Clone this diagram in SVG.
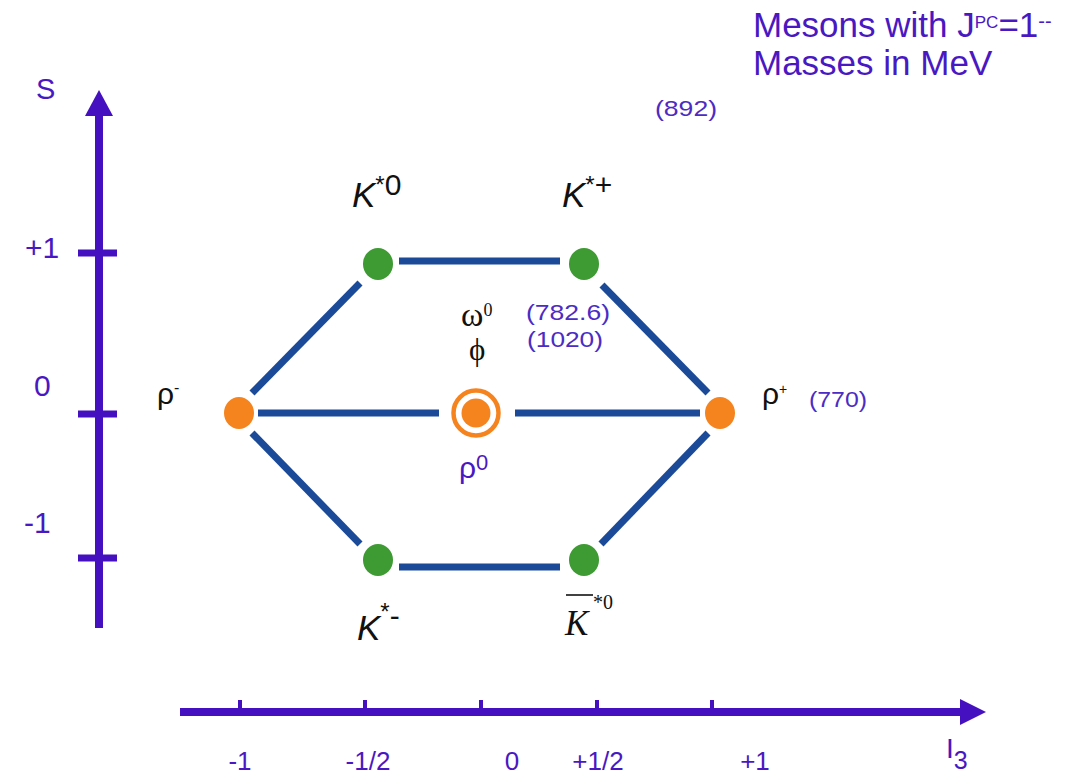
<svg xmlns="http://www.w3.org/2000/svg" width="1084" height="775" viewBox="0 0 1084 775">
<style>
.ax{stroke:#4510c0;fill:none}
.axf{fill:#4510c0}
.lbl{font-family:"Liberation Sans",Arial,sans-serif;fill:#4a18c2}
.mass{font-family:"Liberation Sans",Arial,sans-serif;fill:#4b2cc4;font-size:22px}
.blk{font-family:"Liberation Sans",Arial,sans-serif;fill:#111}
.ser{font-family:"Liberation Serif","Times New Roman",serif;fill:#111}
.edge{stroke:#1b4a98;stroke-width:7;fill:none}
.g{fill:#3e9a33}
.o{fill:#f5841f}
</style>
<rect width="1084" height="775" fill="#fff"/>

<g id="axes">
  <line class="ax" x1="99" y1="110" x2="99" y2="628" stroke-width="8"/>
  <polygon class="axf" points="99,90 85,116 113,116"/>
  <line class="ax" x1="78" y1="253" x2="117" y2="253" stroke-width="7"/>
  <line class="ax" x1="78" y1="414" x2="117" y2="414" stroke-width="7"/>
  <line class="ax" x1="78" y1="558" x2="117" y2="558" stroke-width="7"/>
  <line class="ax" x1="180" y1="712" x2="965" y2="712" stroke-width="8"/>
  <polygon class="axf" points="986,712 960,699 960,725"/>
  <line class="ax" x1="240" y1="700" x2="240" y2="712" stroke-width="4"/>
  <line class="ax" x1="365" y1="700" x2="365" y2="712" stroke-width="4"/>
  <line class="ax" x1="481" y1="700" x2="481" y2="712" stroke-width="4"/>
  <line class="ax" x1="597" y1="700" x2="597" y2="712" stroke-width="4"/>
  <line class="ax" x1="712" y1="700" x2="712" y2="712" stroke-width="4"/>
  <text class="lbl" x="36" y="99" font-size="29">S</text>
  <text class="lbl" x="25" y="258" font-size="30">+1</text>
  <text class="lbl" x="34" y="396" font-size="30">0</text>
  <text class="lbl" x="24" y="533" font-size="30">-1</text>
  <g font-size="26" text-anchor="middle">
    <text class="lbl" x="240" y="770">-1</text>
    <text class="lbl" x="368" y="770">-1/2</text>
    <text class="lbl" x="512" y="770">0</text>
    <text class="lbl" x="598" y="770">+1/2</text>
    <text class="lbl" x="755" y="770">+1</text>
  </g>
  <text class="lbl" x="946" y="758" font-size="28">I<tspan font-size="25" dy="11">3</tspan></text>
</g>

<g id="title">
  <text class="lbl" x="753" y="37" font-size="35">Mesons with J<tspan font-size="17" dy="-9">PC</tspan><tspan dy="9">=1</tspan><tspan font-size="20" dy="-9">--</tspan></text>
  <text class="lbl" x="753" y="75" font-size="35">Masses in MeV</text>
</g>

<g id="connectors">
  <line class="edge" x1="399" y1="261" x2="560" y2="261"/>
  <line class="edge" x1="399" y1="567" x2="560" y2="567"/>
  <line class="edge" x1="252" y1="393" x2="360" y2="283"/>
  <line class="edge" x1="602" y1="285" x2="708" y2="393"/>
  <line class="edge" x1="252" y1="433" x2="360" y2="544"/>
  <line class="edge" x1="601" y1="544" x2="708" y2="433"/>
  <line class="edge" x1="258" y1="413" x2="439" y2="413"/>
  <line class="edge" x1="515" y1="413" x2="700" y2="413"/>
</g>

<g id="node-kstar0">
  <ellipse class="g" cx="378" cy="264" rx="15" ry="16"/>
  <text class="blk" x="352" y="207" font-size="35"><tspan font-style="italic">K</tspan><tspan font-size="24" dy="-14">*</tspan><tspan font-size="30" dy="2">0</tspan></text>
</g>
<g id="node-kstarplus">
  <ellipse class="g" cx="584" cy="264" rx="15" ry="16"/>
  <text class="blk" x="562" y="207" font-size="35"><tspan font-style="italic">K</tspan><tspan font-size="24" dy="-14">*</tspan><tspan font-size="30" dy="2">+</tspan></text>
</g>
<g id="node-kstarminus">
  <ellipse class="g" cx="378" cy="560" rx="15" ry="16"/>
  <text class="blk" x="357" y="640" font-size="35"><tspan font-style="italic">K</tspan><tspan font-size="24" dy="-20">*</tspan><tspan font-size="30" dy="6">-</tspan></text>
</g>
<g id="node-kstar0bar">
  <ellipse class="g" cx="584" cy="560" rx="15" ry="16"/>
  <line x1="566" y1="595" x2="593" y2="595" stroke="#111" stroke-width="1.6"/>
  <text class="ser" x="565" y="635" font-size="35" font-style="italic">K</text>
  <text class="ser" x="593" y="609" font-size="20">*0</text>
</g>
<g id="node-rhominus">
  <ellipse class="o" cx="239" cy="413" rx="15" ry="16"/>
  <text class="blk" x="157" y="404" font-size="30">ρ<tspan font-size="16" dy="-11">-</tspan></text>
</g>
<g id="node-rhoplus">
  <ellipse class="o" cx="720" cy="413" rx="15" ry="16"/>
  <text class="blk" x="762" y="404" font-size="30">ρ<tspan font-size="14" dy="-10">+</tspan></text>
  <text class="mass" x="809" y="407" textLength="58" lengthAdjust="spacingAndGlyphs">(770)</text>
</g>
<g id="node-center">
  <circle cx="476" cy="413" r="22.5" fill="none" stroke="#f5841f" stroke-width="4.5"/>
  <circle class="o" cx="476" cy="413" r="14.5"/>
  <text class="ser" x="461" y="326" font-size="34">ω<tspan font-size="18" dy="-10">0</tspan></text>
  <text class="ser" x="469" y="360" font-size="31">ϕ</text>
  <text class="mass" x="526" y="320" textLength="84" lengthAdjust="spacingAndGlyphs">(782.6)</text>
  <text class="mass" x="527" y="347" textLength="76" lengthAdjust="spacingAndGlyphs">(1020)</text>
  <text class="lbl" x="459" y="478" font-size="30" fill="#4b2cc4">ρ<tspan font-size="22" dy="-8">0</tspan></text>
</g>
<g id="mass-kstar">
  <text class="mass" x="655" y="116" textLength="62" lengthAdjust="spacingAndGlyphs">(892)</text>
</g>
</svg>
